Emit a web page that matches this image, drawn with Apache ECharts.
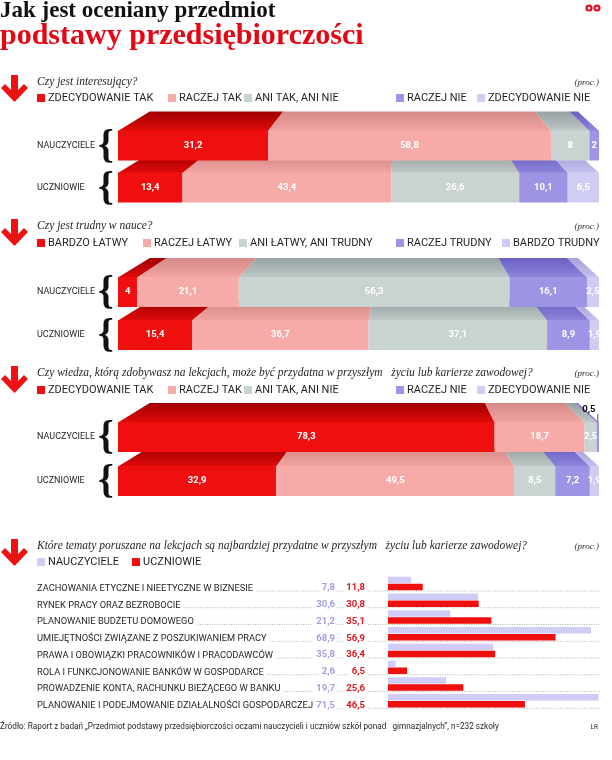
<!DOCTYPE html>
<html><head><meta charset="utf-8">
<script src="https://cdn.jsdelivr.net/npm/echarts@6/dist/echarts.min.js"></script>
<style>html,body{margin:0;padding:0;background:#fff}#c{width:612px;height:760px}</style>
</head><body><div id="c"></div>
<script>
// ---------- DATA ----------
const titleLine1 = 'Jak jest oceniany przedmiot';
const titleLine2 = 'podstawy przedsiębiorczości';
const groups = ['NAUCZYCIELE', 'UCZNIOWIE'];

const q1Question = 'Czy jest interesujący?';
const q1Categories = ['ZDECYDOWANIE TAK', 'RACZEJ TAK', 'ANI TAK, ANI NIE', 'RACZEJ NIE', 'ZDECYDOWANIE NIE'];
const q1Teachers = [31.2, 58.8, 8, 2, 0];
const q1Students = [13.4, 43.4, 26.6, 10.1, 6.5];

const q2Question = 'Czy jest trudny w nauce?';
const q2Categories = ['BARDZO ŁATWY', 'RACZEJ ŁATWY', 'ANI ŁATWY, ANI TRUDNY', 'RACZEJ TRUDNY', 'BARDZO TRUDNY'];
const q2Teachers = [4, 21.1, 56.3, 16.1, 2.5];
const q2Students = [15.4, 36.7, 37.1, 8.9, 1.9];

const q3Question = 'Czy wiedza, którą zdobywasz na lekcjach, może być przydatna w przyszłym   życiu lub karierze zawodowej?';
const q3Categories = ['ZDECYDOWANIE TAK', 'RACZEJ TAK', 'ANI TAK, ANI NIE', 'RACZEJ NIE', 'ZDECYDOWANIE NIE'];
const q3Teachers = [78.3, 18.7, 2.5, 0.5, 0];
const q3Students = [32.9, 49.5, 8.5, 7.2, 1.9];

const q4Question = 'Które tematy poruszane na lekcjach są najbardziej przydatne w przyszłym   życiu lub karierze zawodowej?';
const topics = [
  'ZACHOWANIA ETYCZNE I NIEETYCZNE W BIZNESIE',
  'RYNEK PRACY ORAZ BEZROBOCIE',
  'PLANOWANIE BUDŻETU DOMOWEGO',
  'UMIEJĘTNOŚCI ZWIĄZANE Z POSZUKIWANIEM PRACY',
  'PRAWA I OBOWIĄZKI PRACOWNIKÓW I PRACODAWCÓW',
  'ROLA I FUNKCJONOWANIE BANKÓW W GOSPODARCE',
  'PROWADZENIE KONTA, RACHUNKU BIEŻĄCEGO W BANKU',
  'PLANOWANIE I PODEJMOWANIE DZIAŁALNOŚCI GOSPODARCZEJ'
];
const topicTeachers = [7.8, 30.6, 21.2, 68.9, 35.8, 2.6, 19.7, 71.5];
const topicStudents = [11.8, 30.8, 35.1, 56.9, 36.4, 6.5, 25.6, 46.5];

const unitNote = '(proc.)';
const sourceText = 'Źródło: Raport z badań „Przedmiot podstawy przedsiębiorczości oczami nauczycieli i uczniów szkół ponad   gimnazjalnych”, n=232 szkoły';
const authorText = 'ŁR';

// ---------- STYLE ----------
const INK = '#231f20';
const FRONT = ['#f00f0f', '#f7aba8', '#c9d3d2', '#9d94e6', '#d0cdf4'];
const TOPDARK = ['#a00000', '#d38a87', '#96a2a1', '#6a60c2', '#a4a0da'];
const TOPLIGHT = ['#e00a0a', '#f2a3a0', '#bdc8c7', '#8e85dc', '#c5c2ef'];
const LAV = '#cfccf6', RED = '#f00f0f', LAVTXT = '#a29de8', REDTXT = '#e3141b';
const BAR = 30, DEPTH = 19, VP = 60, PK = 0.89;
const SERIF = '"Liberation Serif", "DejaVu Serif", serif';
const SANS = 'Roboto, "Liberation Sans", sans-serif';

const fmt = v => String(v).replace('.', ',');

const sections = [
  {q: q1Question, cats: q1Categories, t: q1Teachers, s: q1Students},
  {q: q2Question, cats: q2Categories, t: q2Teachers, s: q2Students},
  {q: q3Question, cats: q3Categories, t: q3Teachers, s: q3Students}
];
const layout = [
  {top: 124.5, h: 84, qy: 83, ly: 99, lx: [37, 168, 244, 396, 477]},
  {top: 270.5, h: 86, qy: 227, ly: 244, lx: [37, 143, 239, 396, 502]},
  {top: 415, h: 88, qy: 374, ly: 391, lx: [37, 168, 244, 396, 477]}
];
const L4 = {top: 575.1, h: 134, qy: 547, ly: 563, lx: [37, 132]};

function topRender(params, api) {
  const s = api.value(0), e = api.value(1), r = api.value(2), k = api.value(3);
  const a = api.coord([s, r]), b = api.coord([e, r]);
  const cx = api.coord([VP, r])[0];
  const yF = a[1] - BAR / 2, yB = yF - DEPTH;
  const bx = x => cx + (x - cx) * PK;
  const children = [];
  if (e > s) {
    children.push({
      type: 'polygon',
      shape: {points: [[a[0], yF + 0.5], [b[0], yF + 0.5], [bx(b[0]), yB], [bx(a[0]), yB]]},
      style: {fill: new echarts.graphic.LinearGradient(0, 0, 0, 1, [
        {offset: 0, color: TOPDARK[k]}, {offset: 1, color: TOPLIGHT[k]}])}
    });
  }
  if (k === 0) {
    children.push({type: 'text', style: {text: '{', x: 106, y: a[1] + 1, fontSize: 40, fontWeight: 'bold',
      fontFamily: SERIF, fill: '#111', align: 'center', verticalAlign: 'middle'}});
  }
  return {type: 'group', children};
}

function rowRender(params, api) {
  const i = api.value(1);
  const yc = api.coord([0, i])[1];
  const yb = yc + 7.5;
  return {type: 'group', children: [
    {type: 'line', shape: {x1: 37, y1: yb, x2: 600, y2: yb},
      style: {stroke: '#777', lineWidth: 0.7, lineDash: [0.8, 1.6]}},
    {type: 'text', style: {text: topics[i], x: 37, y: yb + 2, align: 'left', verticalAlign: 'bottom',
      fontSize: 9.3, fontFamily: SANS, fill: INK, backgroundColor: '#fff', padding: [0, 3, 0, 0]}},
    {type: 'text', style: {text: fmt(topicTeachers[i]), x: 337, y: yb + 2, align: 'right', verticalAlign: 'bottom',
      fontSize: 9.5, fontWeight: 'bold', fontFamily: SANS, fill: LAVTXT, backgroundColor: '#fff', padding: [0, 2, 0, 3]}},
    {type: 'text', style: {text: fmt(topicStudents[i]), x: 367, y: yb + 2, align: 'right', verticalAlign: 'bottom',
      fontSize: 9.5, fontWeight: 'bold', fontFamily: SANS, fill: REDTXT, backgroundColor: '#fff', padding: [0, 2, 0, 3]}}
  ]};
}

const grids = [], xAxes = [], yAxes = [], series = [], legends = [], titles = [], graphics = [];

function legendItem(name, left, cy) {
  return {left: left, top: cy - 6.5, data: [name], icon: 'rect', itemWidth: 8, itemHeight: 8,
    padding: 0, itemGap: 0, selectedMode: false,
    textStyle: {fontSize: 11, fontFamily: SANS, color: INK, padding: [0, 0, 0, -2]}};
}
function arrow(y) {
  return {type: 'polygon', silent: true, shape: {points: [[11, y], [18, y], [18, y + 15], [24, y + 9], [28, y + 13],
    [14.5, y + 27], [1, y + 13], [5, y + 9], [11, y + 15]]}, style: {fill: '#ee1111'}};
}
function question(text, y) {
  titles.push({text, left: 37, top: y - 7, padding: 0,
    textStyle: {fontFamily: SERIF, fontStyle: 'italic', fontWeight: 'normal', fontSize: 11.5, color: INK}});
  titles.push({text: unitNote, right: 13, top: y - 5, padding: 0,
    textStyle: {fontFamily: SERIF, fontStyle: 'italic', fontWeight: 'normal', fontSize: 9, color: INK}});
  graphics.push(arrow(y - 8));
}

sections.forEach((sec, i) => {
  const L = layout[i];
  grids.push({left: 118, right: 13, top: L.top, height: L.h});
  xAxes.push({type: 'value', gridIndex: i, min: 0, max: 100, show: false});
  yAxes.push({type: 'category', gridIndex: i, data: groups, inverse: true,
    axisLine: {show: false}, axisTick: {show: false}, splitLine: {show: false},
    axisLabel: {align: 'left', margin: 81, fontSize: 9, fontFamily: SANS, color: INK}});
  sec.cats.forEach((name, k) => {
    series.push({type: 'bar', name, stack: 'st' + i, xAxisIndex: i, yAxisIndex: i, barWidth: BAR, z: 3,
      silent: true, itemStyle: {color: FRONT[k]}, data: [sec.t[k], sec.s[k]],
      label: {show: true, position: 'inside', color: '#fff', fontWeight: 'bold', fontSize: 9.5, fontFamily: SANS,
        formatter: p => (p.value >= 1 ? fmt(p.value) : '')}});
    legends.push(legendItem(name, L.lx[k], L.ly));
  });
  const topData = [];
  [sec.t, sec.s].forEach((vals, r) => {
    let c = 0;
    vals.forEach((v, k) => { topData.push([c, c + v, r, k]); c += v; });
  });
  series.push({type: 'custom', xAxisIndex: i, yAxisIndex: i, z: 1, silent: true,
    encode: {x: [0, 1], y: 2}, data: topData, renderItem: topRender});
  question(sec.q, L.qy);
});

// callout for the tiny 0,5 segment (teachers, question 3)
const calloutPos = q3Teachers[0] + q3Teachers[1] + q3Teachers[2] + q3Teachers[3] / 2;
series.push({type: 'custom', xAxisIndex: 2, yAxisIndex: 2, z: 5, silent: true, encode: {x: 0, y: 1},
  data: [[calloutPos, 0]],
  renderItem: (params, api) => {
    const p = api.coord([api.value(0), api.value(1)]);
    const yF = p[1] - BAR / 2;
    return {type: 'group', children: [
      {type: 'line', shape: {x1: p[0], y1: yF - 8, x2: p[0], y2: yF}, style: {stroke: '#333', lineWidth: 0.8}},
      {type: 'text', style: {text: fmt(q3Teachers[3]), x: p[0] - 9, y: yF - 7, align: 'center', verticalAlign: 'bottom',
        fontSize: 9.5, fontWeight: 'bold', fontFamily: SANS, fill: '#111'}}
    ]};
  }});

// section 4
grids.push({left: 388, width: 212, top: L4.top, height: L4.h});
xAxes.push({type: 'value', gridIndex: 3, min: 0, max: 72, show: false});
yAxes.push({type: 'category', gridIndex: 3, data: topics, inverse: true, show: false});
series.push({type: 'custom', xAxisIndex: 3, yAxisIndex: 3, z: 1, silent: true, encode: {x: 0, y: 1},
  data: topics.map((t, i) => [0, i]), renderItem: rowRender});
series.push({type: 'bar', name: 'NAUCZYCIELE', xAxisIndex: 3, yAxisIndex: 3, barWidth: 6.5, barGap: '8%', z: 3,
  silent: true, itemStyle: {color: LAV}, data: topicTeachers});
series.push({type: 'bar', name: 'UCZNIOWIE', xAxisIndex: 3, yAxisIndex: 3, barWidth: 6.5, barGap: '8%', z: 3,
  silent: true, itemStyle: {color: RED}, data: topicStudents});
legends.push(legendItem('NAUCZYCIELE', L4.lx[0], L4.ly));
legends.push(legendItem('UCZNIOWIE', L4.lx[1], L4.ly));
question(q4Question, L4.qy);

// headline, source
titles.push({text: titleLine1, left: 0, top: 0, padding: 0,
  textStyle: {fontFamily: SERIF, fontWeight: 'bold', fontSize: 23, color: '#111'}});
titles.push({text: titleLine2, left: 0, top: 21, padding: 0,
  textStyle: {fontFamily: SERIF, fontWeight: 'bold', fontSize: 30, color: '#e30613'}});
titles.push({text: sourceText, left: 0, top: 723, padding: 0,
  textStyle: {fontFamily: SANS, fontWeight: 'normal', fontSize: 8.2, color: INK}});
titles.push({text: authorText, right: 14, top: 724, padding: 0,
  textStyle: {fontFamily: SANS, fontWeight: 'normal', fontSize: 6.5, color: INK}});

// logo
[589, 597].forEach(x => {
  graphics.push({type: 'circle', silent: true, shape: {cx: x, cy: 8, r: 3.6}, style: {fill: '#e30613'}});
  graphics.push({type: 'circle', silent: true, shape: {cx: x, cy: 8, r: 1.5}, style: {fill: '#fff'}});
});

const chart = echarts.init(document.getElementById('c'), null, {renderer: 'canvas'});
chart.setOption({
  animation: false,
  backgroundColor: '#fff',
  title: titles,
  legend: legends,
  grid: grids,
  xAxis: xAxes,
  yAxis: yAxes,
  series: series,
  graphic: graphics
});
</script></body></html>
